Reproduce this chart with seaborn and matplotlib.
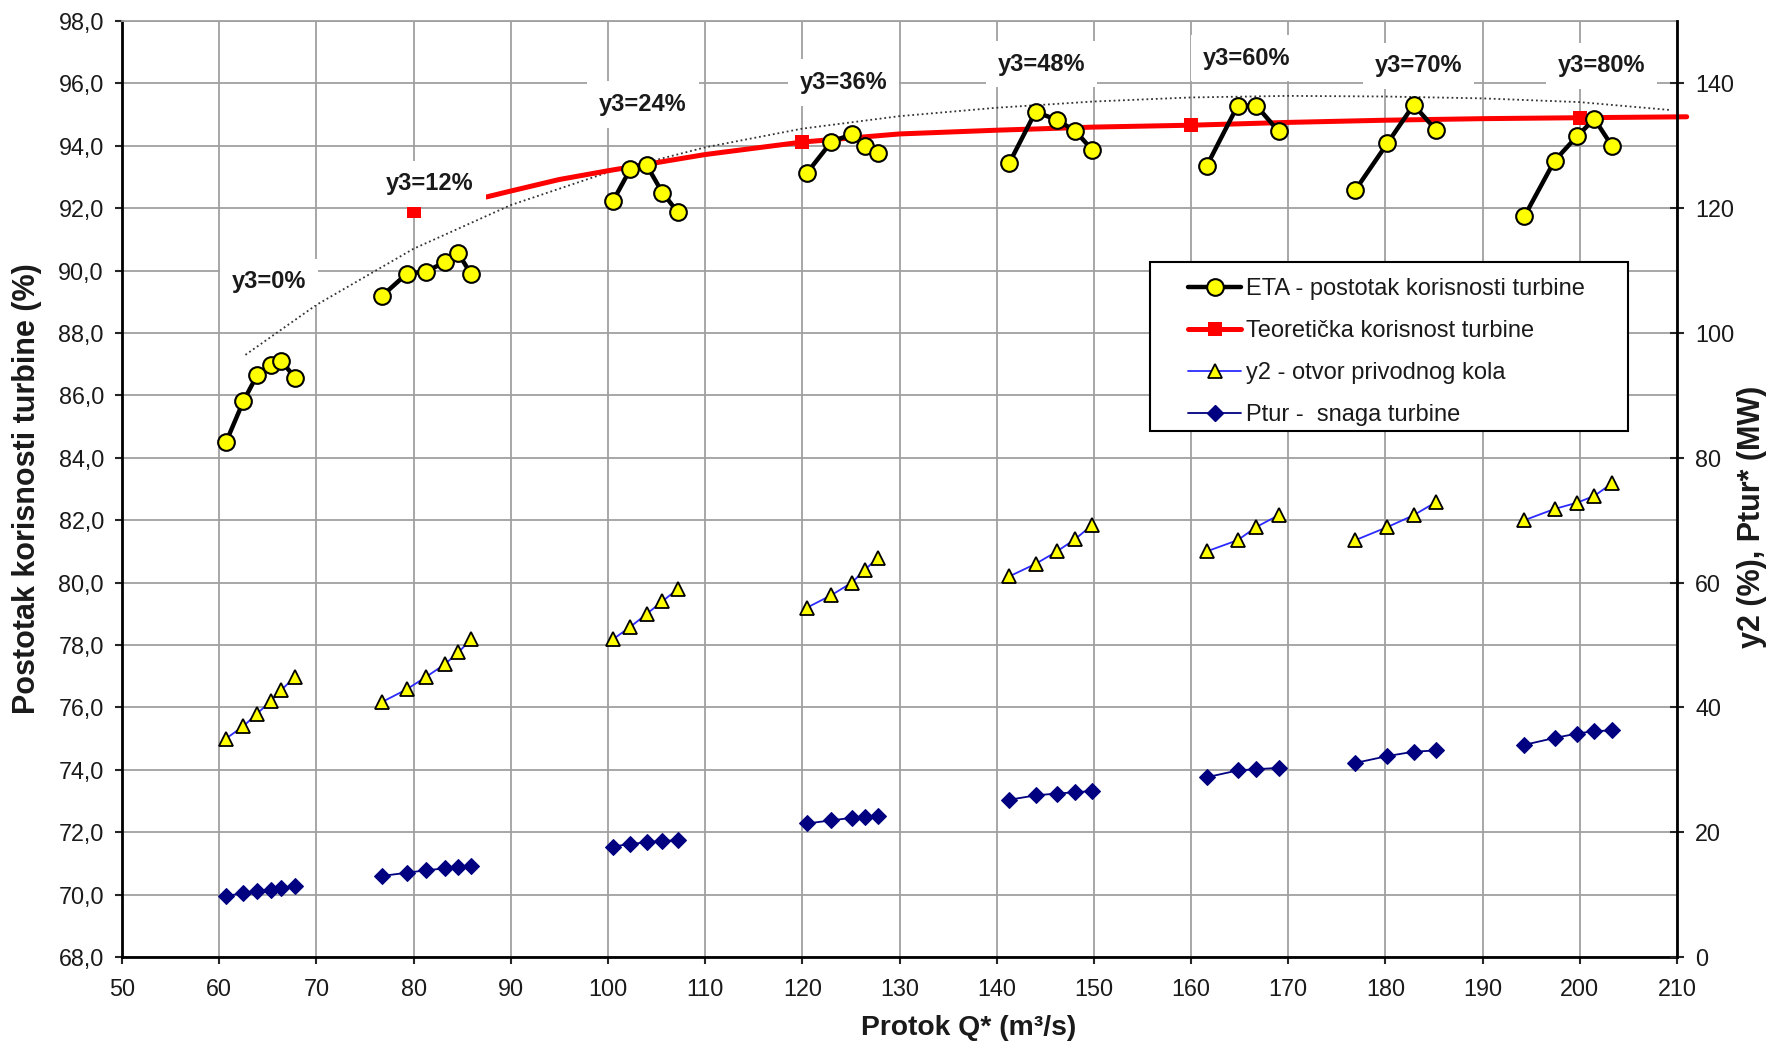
import matplotlib
matplotlib.use("Agg")
import matplotlib.pyplot as plt
from matplotlib.lines import Line2D
from matplotlib.patches import Rectangle
from matplotlib.ticker import FuncFormatter, MultipleLocator
import numpy as np
import pandas as pd
import seaborn as sns

# ---------------- data ----------------
q_groups = [
    [60.7, 62.5, 63.9, 65.3, 66.4, 67.8],
    [76.8, 79.3, 81.3, 83.2, 84.6, 85.9],
    [100.5, 102.3, 104.0, 105.6, 107.2],
    [120.5, 123.0, 125.1, 126.4, 127.8],
    [141.3, 144.0, 146.2, 148.1, 149.8],
    [161.6, 164.8, 166.7, 169.0],
    [176.9, 180.2, 182.9, 185.2],
    [194.3, 197.4, 199.7, 201.5, 203.3],
]
eta_groups = [
    [84.50, 85.82, 86.65, 86.96, 87.10, 86.57],
    [89.20, 89.90, 89.97, 90.27, 90.55, 89.90],
    [92.22, 93.25, 93.37, 92.50, 91.87],
    [93.14, 94.13, 94.37, 93.98, 93.78],
    [93.45, 95.09, 94.83, 94.47, 93.88],
    [93.35, 95.29, 95.29, 94.47],
    [92.58, 94.08, 95.31, 94.51],
    [91.74, 93.52, 94.30, 94.86, 94.00],
]
y2_groups = [
    [35.0, 37.0, 39.0, 41.0, 42.8, 44.9],
    [40.9, 42.9, 44.9, 46.9, 48.8, 50.9],
    [50.9, 52.9, 55.0, 57.0, 59.0],
    [56.0, 58.0, 60.0, 62.0, 64.0],
    [61.0, 63.0, 65.0, 67.0, 69.2],
    [65.0, 66.8, 68.9, 70.8],
    [66.8, 68.9, 70.8, 72.9],
    [70.0, 71.8, 72.8, 73.9, 75.9],
]
ptur_groups = [
    [9.8, 10.2, 10.5, 10.8, 11.1, 11.3],
    [13.0, 13.5, 13.9, 14.2, 14.5, 14.6],
    [17.7, 18.1, 18.4, 18.6, 18.7],
    [21.4, 21.9, 22.3, 22.5, 22.6],
    [25.2, 25.9, 26.2, 26.4, 26.6],
    [28.8, 29.9, 30.1, 30.3],
    [31.1, 32.2, 32.9, 33.1],
    [34.0, 35.1, 35.8, 36.2, 36.3],
]
y3_labels = ["y3=0%", "y3=12%", "y3=24%", "y3=36%", "y3=48%", "y3=60%", "y3=70%", "y3=80%"]

# theoretical efficiency: visible curve and its square markers
teo_q   = [87.5, 90, 95, 100, 110, 120, 130, 140, 150, 160, 170, 180, 190, 200, 211]
teo_eta = [92.36, 92.55, 92.92, 93.20, 93.72, 94.12, 94.38, 94.50, 94.60,
           94.66, 94.75, 94.82, 94.87, 94.90, 94.93]
teo_pt_q   = [80, 120, 160, 200]
teo_pt_eta = [91.92, 94.12, 94.66, 94.90]

# dotted trend line
trend_q   = [62.7, 70, 80, 90, 100, 110, 120, 130, 140, 150, 160, 170, 180, 190, 200, 209.2]
trend_eta = [87.30, 88.90, 90.70, 92.10, 93.15, 93.95, 94.55, 94.95, 95.22, 95.42,
             95.55, 95.60, 95.58, 95.52, 95.40, 95.15]

legend_labels = ["ETA - postotak korisnosti turbine", "Teoretička korisnost turbine",
                 "y2 - otvor privodnog kola", "Ptur -  snaga turbine"]

# ---------------- tables ----------------
rows = []
for g, (qs, es, ys, ps) in enumerate(zip(q_groups, eta_groups, y2_groups, ptur_groups)):
    for q, e, y, p in zip(qs, es, ys, ps):
        rows.append(dict(Q=q, eta=e, y2=y, ptur=p, group=g))
df = pd.DataFrame(rows)
teo_df = pd.DataFrame(dict(Q=teo_q, eta=teo_eta))
teo_pt_df = pd.DataFrame(dict(Q=teo_pt_q, eta=teo_pt_eta))
trend_df = pd.DataFrame(dict(Q=trend_q, eta=trend_eta))

# ---------------- style ----------------
sns.set_style("white")
plt.rcParams["font.family"] = ["Liberation Sans", "DejaVu Sans"]
TXT = "#1a1a1a"

W, H = 1771, 1047
fig = plt.figure(figsize=(W / 100, H / 100), dpi=100)
ax = fig.add_axes([122 / W, 1 - 957 / H, (1677 - 122) / W, (957 - 21) / H])
ax2 = ax.twinx()

ax.set_xlim(50, 210)
ax.set_ylim(68, 98)
ax2.set_ylim(0, 150)
ax.xaxis.set_major_locator(MultipleLocator(10))
ax.yaxis.set_major_locator(MultipleLocator(2))
ax2.set_yticks(np.arange(0, 141, 20))
ax.yaxis.set_major_formatter(FuncFormatter(lambda v, p: f"{v:.1f}".replace(".", ",")))

ax.grid(True, color="#a0a0a0", linewidth=1.3)
ax.set_axisbelow(True)
ax2.grid(False)

for sp in ["left", "bottom"]:
    ax.spines[sp].set_color("black")
    ax.spines[sp].set_linewidth(2.0)
ax.spines["top"].set_color("#a0a0a0")
ax.spines["top"].set_linewidth(1.3)
ax.spines["right"].set_visible(False)
ax2.spines["right"].set_color("black")
ax2.spines["right"].set_linewidth(2.0)
for sp in ["left", "top", "bottom"]:
    ax2.spines[sp].set_visible(False)

TICK_FS = 16.8
ax.tick_params(axis="y", direction="out", length=5, width=1.5, pad=8,
               labelsize=TICK_FS, labelcolor=TXT, left=True)
ax.tick_params(axis="x", direction="out", length=5, width=1.5, pad=10,
               labelsize=TICK_FS, labelcolor=TXT, bottom=True)
ax2.tick_params(axis="y", direction="inout", length=10, width=1.5, pad=8,
                labelsize=TICK_FS, labelcolor=TXT, right=True)

# ---------------- series ----------------
sns.lineplot(data=trend_df, x="Q", y="eta", ax=ax, color="#333333", linewidth=1.3,
             linestyle=(0, (1, 1.6)), legend=False, sort=False, zorder=2)
sns.lineplot(data=teo_df, x="Q", y="eta", ax=ax, color="#ff0000", linewidth=3.6,
             legend=False, sort=False, zorder=3)
ax.lines[-1].set_clip_on(False)
sns.scatterplot(data=teo_pt_df, x="Q", y="eta", ax=ax, color="#ff0000", marker="s",
                s=100, linewidth=0, legend=False, zorder=3.5)
sns.lineplot(data=df, x="Q", y="eta", units="group", estimator=None, ax=ax,
             color="black", linewidth=3.2, marker="o", markersize=12,
             markerfacecolor="#ffff00", markeredgecolor="black", markeredgewidth=1.5,
             legend=False, zorder=5)

sns.lineplot(data=df, x="Q", y="y2", units="group", estimator=None, ax=ax2,
             color="#2b2bff", linewidth=1.3, marker="^", markersize=10,
             markerfacecolor="#ffff00", markeredgecolor="black", markeredgewidth=1.3,
             legend=False, zorder=4)
sns.lineplot(data=df, x="Q", y="ptur", units="group", estimator=None, ax=ax2,
             color="#000080", linewidth=1.3, marker="D", markersize=8,
             markerfacecolor="#000080", markeredgecolor="#000080",
             legend=False, zorder=4)

# ---------------- labels ----------------
label_pos = [(65.1, 89.64), (81.7, 92.78), (103.6, 95.33), (124.2, 96.03),
             (144.6, 96.62), (165.7, 96.81), (183.4, 96.56), (202.2, 96.56)]
for txt, (xp, yp) in zip(y3_labels, label_pos):
    ax.text(xp, yp, txt, ha="center", va="center", fontsize=17, fontweight="bold",
            color=TXT, zorder=6,
            bbox=dict(boxstyle="square,pad=0.5", facecolor="white", edgecolor="none"))

ax.set_xlabel("Protok Q* (m³/s)", fontsize=20.3, fontweight="bold", color=TXT)
ax.xaxis.label.set_verticalalignment("center")
ax.xaxis.set_label_coords((969 - 122) / 1555, -(1028 - 957) / 936)
ax.set_ylabel("Postotak korisnosti turbine (%)", fontsize=22, fontweight="bold", color=TXT)
ax.yaxis.label.set_verticalalignment("center")
ax.yaxis.set_label_coords((27 - 122) / 1555, 0.50)
ax2.set_ylabel("y2 (%), Ptur* (MW)", fontsize=22, fontweight="bold", color=TXT, rotation=90)
ax2.yaxis.label.set_verticalalignment("center")
ax2.yaxis.set_label_coords((1752 - 122) / 1555, 0.47)

# legend: frame drawn as a box, entries placed inside it
frame = Rectangle(((1150 - 122) / 1555, (957 - 431) / 936), 478 / 1555, 169 / 936,
                  transform=ax2.transAxes, facecolor="white", edgecolor="black",
                  linewidth=1.5, zorder=9, clip_on=False)
ax2.add_patch(frame)
handles = [
    Line2D([], [], color="black", lw=3.2, marker="o", markersize=12,
           markerfacecolor="#ffff00", markeredgecolor="black", markeredgewidth=1.5),
    Line2D([], [], color="#ff0000", lw=3.6, marker="s", markersize=10, markeredgewidth=0),
    Line2D([], [], color="#2b2bff", lw=1.3, marker="^", markersize=10,
           markerfacecolor="#ffff00", markeredgecolor="black", markeredgewidth=1.3),
    Line2D([], [], color="#000080", lw=1.3, marker="D", markersize=8,
           markerfacecolor="#000080", markeredgecolor="#000080"),
]
leg = ax2.legend(handles, legend_labels, loc="upper left",
                 bbox_to_anchor=((1188 - 122) / 1555, (957 - 278) / 936),
                 fontsize=17, frameon=False, handlelength=2.25, handletextpad=0.2,
                 labelspacing=0.85, borderpad=0, borderaxespad=0)
for t in leg.get_texts():
    t.set_color(TXT)
leg.set_zorder(10)

fig.savefig("out.png", dpi=100, facecolor="white")
